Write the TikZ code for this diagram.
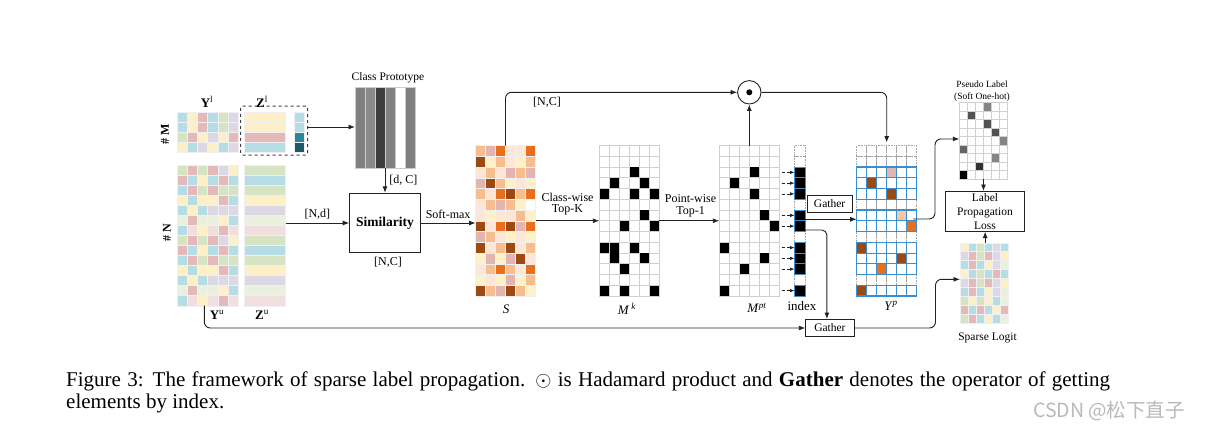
\documentclass[tikz,border=0pt]{standalone}
\usepackage{fontspec}
\setmainfont{Liberation Serif}
\newfontfamily\cjkfont{Noto Sans CJK SC}
\usetikzlibrary{arrows.meta}
\definecolor{cG}{HTML}{D6E4C3}
\definecolor{cR}{HTML}{E4B9B9}
\definecolor{cC}{HTML}{B6DDE6}
\definecolor{cY}{HTML}{FDF0C9}
\definecolor{cV}{HTML}{DCD8E6}
\definecolor{cE}{HTML}{E9F1DE}
\definecolor{cF}{HTML}{F1DEDE}
\definecolor{sP}{HTML}{FCE6D8}
\definecolor{sL}{HTML}{F6BD8F}
\definecolor{sO}{HTML}{E8701C}
\definecolor{sB}{HTML}{9C4A12}
\definecolor{sK}{HTML}{E3B5B2}
\definecolor{sY}{HTML}{FDF1CC}
\definecolor{sW}{HTML}{FFFFFF}
\definecolor{sQ}{HTML}{F8C7A0}
\definecolor{tA}{HTML}{2A8799}
\definecolor{tB}{HTML}{1D5866}
\definecolor{gridblue}{HTML}{3A8FD0}
\definecolor{gline}{HTML}{CFCFCF}
\definecolor{lineblack}{HTML}{222222}
\newcommand{\colgrid}[6]{%
  \foreach \rowlist [count=\ri] in {#6} {
    \foreach \cc [count=\ci] in \rowlist {
      \filldraw[fill=#5\cc, draw=white!88!gray, line width=0.4pt]
        ({#1+(\ci-1)*#3},{#2+(\ri-1)*#4}) rectangle ++(#3,#4);
    }
  }%
}
\newcommand{\wgrid}[6]{%
  \foreach \ri in {1,...,#6} {
    \foreach \ci in {1,...,#5} {
      \draw[draw=gline, line width=0.7pt] ({#1+(\ci-1)*#3},{#2+(\ri-1)*#4}) rectangle ++(#3,#4);
    }
  }%
}
\begin{document}
\begin{tikzpicture}[x=1pt,y=-1pt,
  arr/.style={-{Latex[length=6.5pt,width=5pt]}, line width=0.9pt, draw=lineblack},
  darr/.style={-{Latex[length=4.5pt,width=3.5pt]}, densely dashed, line width=0.6pt, draw=lineblack},
  ghost/.style={draw=none, inner sep=0pt, outer sep=0pt, rectangle},
  lbl/.style={inner sep=0pt, font=\fontsize{12}{14}\selectfont},
  tinylbl/.style={inner sep=0pt, font=\fontsize{9.5}{11}\selectfont},
  opbox/.style={draw=lineblack, line width=0.9pt, inner sep=0pt, rectangle},
  dotcell/.style={draw=gray!70, densely dotted, line width=0.6pt},
  bluecell/.style={draw=gridblue, line width=0.8pt},
]
\useasboundingbox (0,0) rectangle (1205,431);
\fill[white] (0,0) rectangle (1205,431);

% ---------- Y^l and Z^l ----------
\colgrid{177}{112}{10.2}{10}{c}{{C,Y,R,C,G,V},{C,Y,R,C,G,V},{G,R,Y,V,Y,R},{Y,C,V,Y,C,V}}
\foreach \ri/\cl in {1/cY,2/cY,3/cR,4/cC}
  \filldraw[fill=\cl, draw=white!88!gray, line width=0.4pt] (244,{112+(\ri-1)*10}) rectangle ++(41.5,10);
\foreach \ri/\cl in {1/cC,2/cC,3/tA,4/tB}
  \filldraw[fill=\cl, draw=white!88!gray, line width=0.4pt] (294.3,{112+(\ri-1)*10}) rectangle ++(10,10);
\node[ghost, minimum width=61.2pt, minimum height=40pt] (Yl) at (207.6,132) {};
\node[draw=black!75, dashed, line width=1pt, rounded corners=2pt, inner sep=0pt,
      minimum width=67pt, minimum height=49pt] (Zl) at (274.2,130.5) {};
\node[inner sep=0pt, font=\fontsize{13}{15}\selectfont] (lYl) at (207,102) {\textbf{Y}\textsuperscript{l}};
\node[inner sep=0pt, font=\fontsize{13}{15}\selectfont] (lZl) at (262,102) {\textbf{Z}\textsuperscript{l}};
\node[inner sep=0pt, rotate=90, font=\bfseries\fontsize{12}{14}\selectfont] (hM) at (165,134) {\# M};

% ---------- Y^u and Z^u ----------
\colgrid{177}{165}{10.2}{10.05}{c}{{G,R,G,R,V,Y},{R,C,Y,C,R,C},{C,R,G,R,G,G},{Y,C,Y,Y,R,C},{C,Y,C,V,V,V},{E,R,E,E,Y,C},{C,F,Y,F,R,F},{G,R,G,R,V,Y},{R,C,Y,C,R,C},{C,R,G,R,G,G},{Y,C,Y,Y,R,C},{C,Y,C,V,V,V},{E,R,E,E,Y,C},{C,F,Y,F,R,F}}
\foreach \cl [count=\ri] in {cG,cC,cG,cY,cV,cE,cF,cG,cC,cG,cY,cV,cE,cF}
  \filldraw[fill=\cl, draw=white!88!gray, line width=0.4pt] (244,{165+(\ri-1)*10.05}) rectangle ++(41.5,10.05);
\node[ghost, minimum width=61.2pt, minimum height=140.7pt] (Yu) at (207.6,235.35) {};
\node[ghost, minimum width=41.5pt, minimum height=140.7pt] (Zu) at (264.75,235.35) {};
\node[inner sep=0pt, font=\fontsize{13}{15}\selectfont] (lYu) at (217,315) {\textbf{Y}\textsuperscript{u}};
\node[inner sep=0pt, font=\fontsize{13}{15}\selectfont] (lZu) at (262,315) {\textbf{Z}\textsuperscript{u}};
\node[inner sep=0pt, rotate=90, font=\bfseries\fontsize{12}{14}\selectfont] (hN) at (167,233) {\# N};

% ---------- Class prototype ----------
\foreach \i/\cl in {0/black!50,1/black!46,2/black!76,3/black!50,4/white,5/black!50}
  \filldraw[fill=\cl, draw=gray!40, line width=0.6pt] ({355+\i*10},87.3) rectangle ++(10,80.7);
\node[ghost, minimum width=60pt, minimum height=80.7pt] (proto) at (385,127.65) {};
\node[lbl, font=\fontsize{11.5}{13}\selectfont] (lproto) at (388,78) {Class Prototype};

% ---------- Similarity ----------
\node[opbox, minimum width=70.7pt, minimum height=59.4pt, font=\bfseries\fontsize{13.5}{15}\selectfont] (sim) at (385,223) {Similarity};
\node[lbl] (lsimNC) at (388,262.5) {[N,C]};

% ---------- S ----------
\colgrid{475.5}{145.5}{10}{10.75}{s}{{L,K,O,P,P,O},{B,Y,L,P,Y,L},{P,L,P,K,L,K},{K,B,L,Y,P,Y},{L,P,O,B,L,O},{P,L,K,L,Y,W},{P,Y,P,P,L,Y},{B,P,O,B,K,O},{K,L,P,Y,P,Y},{B,P,L,B,P,L},{Y,K,Y,K,B,P},{P,L,O,L,P,O},{Y,P,Y,K,Y,L},{B,L,K,B,L,Y}}
\node[ghost, minimum width=60pt, minimum height=150.5pt] (S) at (505.5,220.75) {};
\node[lbl, font=\itshape\fontsize{13}{15}\selectfont] (lS) at (506,309.5) {S};

% ---------- M^k ----------
\wgrid{599.3}{145.5}{10}{10.75}{6}{14}
\foreach \cx/\ry in {4/3,2/4,5/4,1/5,4/5,6/5,5/7,3/8,6/8,1/10,2/10,4/10,2/11,5/11,3/12,1/14,3/14,6/14}
  \fill[black] ({599.3+(\cx-1)*10+0.4},{145.5+(\ry-1)*10.75+0.4}) rectangle ++(9.2,9.95);
\node[ghost, minimum width=60pt, minimum height=150.5pt] (Mk) at (629.3,220.75) {};
\node[lbl, font=\fontsize{13}{15}\selectfont] (lMk) at (627,309) {\textit{M}\,\textsuperscript{\textit{k}}};

% ---------- M^pt ----------
\wgrid{719.3}{145.5}{10}{10.75}{6}{14}
\foreach \cx/\ry in {4/3,2/4,4/5,5/7,6/8,1/10,5/11,3/12,1/14}
  \fill[black] ({719.3+(\cx-1)*10+0.4},{145.5+(\ry-1)*10.75+0.4}) rectangle ++(9.2,9.95);
\node[ghost, minimum width=60pt, minimum height=150.5pt] (Mpt) at (749.3,220.75) {};
\node[lbl, font=\fontsize{13}{15}\selectfont] (lMpt) at (757,308) {\textit{M}\textsuperscript{\textit{pt}}};

% ---------- index ----------
\foreach \ry in {1,2,6,9,13}
  \draw[dotcell] (794.5,{145.5+(\ry-1)*10.75}) rectangle ++(10.5,10.75);
\foreach \ry in {3,4,5,7,8,10,11,12,14}
  \filldraw[fill=black, draw=gridblue, line width=1pt] (794.5,{145.5+(\ry-1)*10.75}) rectangle ++(10.5,10.75);
\node[ghost, minimum width=10.5pt, minimum height=150.5pt] (idx) at (799.75,220.75) {};
\node[lbl, font=\fontsize{13}{15}\selectfont] (lidx) at (802,306) {index};
\foreach \ry in {3,4,5,7,8,10,11,12,14}
  \draw[darr] ([xshift=2.5pt]Mpt.east |- 0,{145.5+(\ry-0.5)*10.75}) -- (idx.west |- 0,{145.5+(\ry-0.5)*10.75});

% ---------- Y^p ----------
\foreach \ry in {1,2,6,9,13}
  \foreach \cx in {1,...,6}
    \draw[dotcell] ({856.7+(\cx-1)*10},{145.5+(\ry-1)*10.75}) rectangle ++(10,10.75);
\foreach \cx/\ry/\cl in {4/3/sK,2/4/sB,4/5/sB,5/7/sQ,6/8/sO,1/10/sB,5/11/sB,3/12/sO,1/14/sB}
  \fill[\cl] ({856.7+(\cx-1)*10},{145.5+(\ry-1)*10.75}) rectangle ++(10,10.75);
\foreach \ry in {3,4,5,7,8,10,11,12,14}
  \foreach \cx in {1,...,6}
    \draw[bluecell] ({856.7+(\cx-1)*10},{145.5+(\ry-1)*10.75}) rectangle ++(10,10.75);
\foreach \ra/\rb in {3/5,7/8,10/12,14/14}
  \draw[gridblue, line width=1.2pt] (856.7,{145.5+(\ra-1)*10.75}) rectangle (916.7,{145.5+\rb*10.75});
\node[ghost, minimum width=60pt, minimum height=150.5pt] (Yp) at (886.7,220.75) {};
\node[lbl, font=\fontsize{13}{15}\selectfont] (lYp) at (891,306) {\textit{Y}\textsuperscript{\textit{p}}};
\coordinate (ycell) at (913,219);

% ---------- odot ----------
\node[draw=lineblack, circle, line width=0.9pt, minimum size=23.4pt, inner sep=0pt] (dot) at (749.3,92.3) {};
\fill[black] (dot.center) circle (3pt);

% ---------- Gather boxes ----------
\node[opbox, minimum width=45pt, minimum height=17.7pt, font=\fontsize{11.5}{13}\selectfont] (g1) at (829.6,203.8) {Gather};
\node[opbox, minimum width=48.3pt, minimum height=17pt, font=\fontsize{11.5}{13}\selectfont] (g2) at (829.9,328) {Gather};

% ---------- right column ----------
\wgrid{959.3}{102.7}{8.05}{8.5}{6}{9}
\foreach \cx/\ry/\cl in {4/1/black!48,2/2/black!68,4/3/black!68,5/4/black!68,6/5/black!48,1/6/black!60,5/7/black!48,3/8/black!80,1/9/black}
  \fill[\cl] ({959.3+(\cx-1)*8.05+0.35},{102.7+(\ry-1)*8.5+0.35}) rectangle ++(7.35,7.8);
\node[ghost, minimum width=48.3pt, minimum height=76.5pt] (pseudo) at (983.45,140.95) {};
\node[tinylbl] (lps1) at (982,84) {Pseudo Label};
\node[tinylbl] (lps2) at (982,96.7) {(Soft One-hot)};

\node[opbox, minimum width=78.6pt, minimum height=39.7pt, align=center, font=\fontsize{11.5}{14}\selectfont] (loss) at (985,211.3) {Label\\Propagation\\Loss};

\colgrid{960}{242.7}{8.05}{8.96}{c}{{Y,C,G,C,V,C},{V,R,G,R,V,Y},{C,R,C,Y,V,E},{Y,C,G,C,R,C},{V,R,G,R,V,Y},{C,R,C,Y,V,E},{G,Y,G,Y,C,E},{R,C,R,C,Y,R},{G,R,C,Y,C,E}}
\node[ghost, minimum width=48.3pt, minimum height=80.6pt] (sparse) at (984.15,283) {};
\node[lbl, font=\fontsize{11.5}{13}\selectfont] (lsp) at (987.5,338) {Sparse Logit};

% ---------- connectors ----------
\draw[arr] ([yshift=3.5pt]Zl.east) -- ([yshift=3.5pt]Zl.east -| proto.west);
\draw[arr] (proto.south) -- (sim.north) node[lbl, pos=0.5, right=4pt] (ldC) {[d, C]};
\draw[arr] (sim.west -| Zu.east) -- (sim.west) node[lbl, midway, above=3pt] (lNd) {[N,d]};
\draw[arr] (sim.east) -- (sim.east -| S.west) node[lbl, midway, above=4pt] (lsm) {Soft-max};
\draw[arr] (S.east) -- (Mk.west);
\node[lbl] (lcw1) at (567.5,197.3) {Class-wise};
\node[lbl] (lcw2) at (567.5,210) {Top-K};
\draw[arr] (Mk.east) -- (Mpt.west);
\node[lbl] (lpw1) at (690.5,198.3) {Point-wise};
\node[lbl] (lpw2) at (690.5,211.5) {Top-1};
\draw[arr, rounded corners=6pt] (S.north) |- (dot.west);
\node[lbl] (lNC) at (547,102.5) {[N,C]};
\draw[arr] (Mpt.north) -- (dot.south);
\draw[arr, rounded corners=6pt] (dot.east) -| ([yshift=3pt]Yp.north);
\draw[arr] (idx.east |- 0,219.3) -- (Yp.west |- 0,219.3);
\draw[arr, rounded corners=5pt] (idx.east |- 0,230) -| ([xshift=-3pt]g2.north);
\draw[arr, rounded corners=6pt] ([xshift=-3.3pt]Yu.south) |- (g2.west);
\draw[arr, rounded corners=6pt] (g2.east) -- ++(81,0) |- ([yshift=3.7pt]sparse.west);
\draw[arr, rounded corners=6pt] (ycell) -- ++(22,0) |- ([yshift=2pt]pseudo.west);
\draw[arr] (pseudo.south) -- (pseudo.south |- loss.north);
\draw[arr] ([xshift=1pt]sparse.north) -- ([xshift=1pt]sparse.north |- loss.south);

% ---------- caption ----------
\node[anchor=base west, inner sep=0pt, font=\fontsize{21}{22}\selectfont] (cap1) at (66,386)
  {\makebox[1044pt][s]{Figure 3: The framework of sparse label propagation. $\odot$ is Hadamard product and \textbf{Gather} denotes the operator of getting}};
\node[anchor=base west, inner sep=0pt, font=\fontsize{21}{22}\selectfont] (cap2) at (66,408) {elements by index.};
\node[inner sep=0pt, text=gray!55, font=\cjkfont\fontsize{19.5}{21}\selectfont] (wm) at (1109,411) {CSDN @松下直子};
\end{tikzpicture}
\end{document}
